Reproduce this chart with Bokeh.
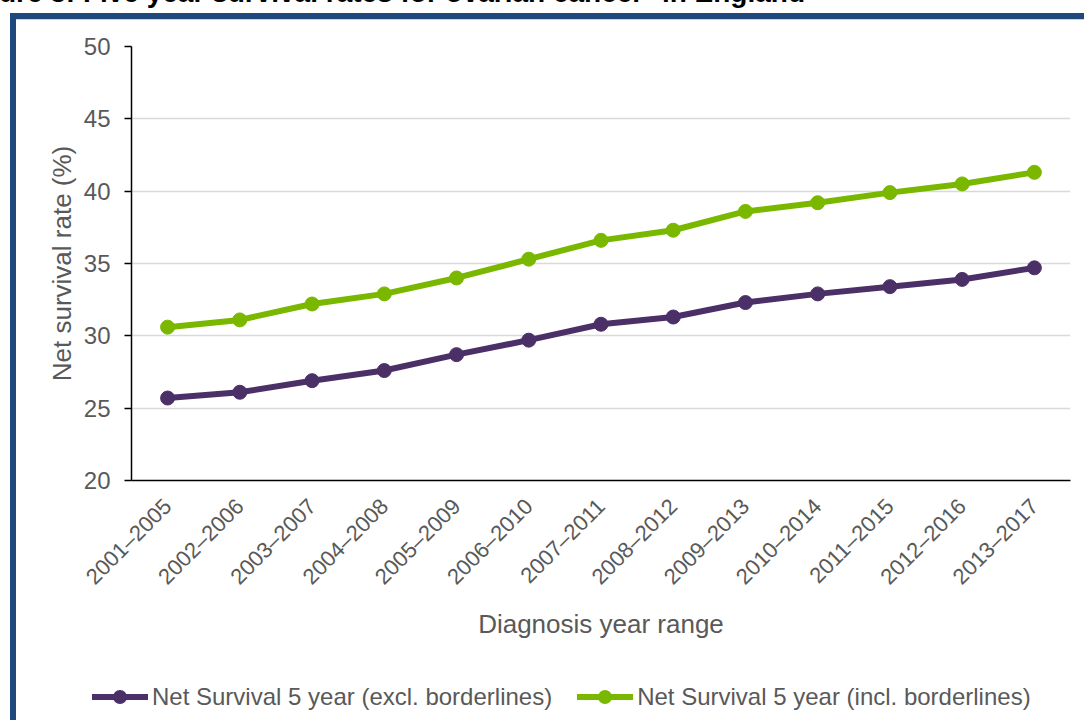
from bokeh.plotting import figure
from bokeh.models import FactorRange, Range1d, FixedTicker, Div
from bokeh.layouts import column
from bokeh.embed import file_html
from bokeh.resources import INLINE
import math

# ---- data ----
periods = ["2001–2005", "2002–2006", "2003–2007", "2004–2008", "2005–2009",
           "2006–2010", "2007–2011", "2008–2012", "2009–2013", "2010–2014",
           "2011–2015", "2012–2016", "2013–2017"]
excl_borderlines = [25.7, 26.1, 26.9, 27.6, 28.7, 29.7, 30.8, 31.3, 32.3, 32.9, 33.4, 33.9, 34.7]
incl_borderlines = [30.6, 31.1, 32.2, 32.9, 34.0, 35.3, 36.6, 37.3, 38.6, 39.2, 39.9, 40.5, 41.3]
y_ticks = [20, 25, 30, 35, 40, 45, 50]
series_names = ["Net Survival 5 year (excl. borderlines)",
                "Net Survival 5 year (incl. borderlines)"]
title_text = "Figure 3: Five year survival rates for ovarian cancer* in England"
x_title = "Diagnosis year range"
y_title = "Net survival rate (%)"

PURPLE = "#4B3068"
GREEN = "#7AB800"
GREY = "#595959"
BLUE = "#1F497D"
FONT = "Liberation Sans"
series_colors = [PURPLE, GREEN]

title = Div(text=title_text, width=805, height=24, margin=(-16, 0, 0, 0),
            styles={"font-family": FONT, "font-size": "28px", "font-weight": "bold",
                    "color": "black", "text-align": "right", "white-space": "nowrap",
                    "line-height": "18px", "direction": "rtl"})

p = figure(x_range=FactorRange(*periods), y_range=Range1d(20, 50),
           frame_width=939, frame_height=434,
           min_border_left=131, min_border_right=14, min_border_top=38,
           min_border_bottom=240,
           output_backend="svg", toolbar_location=None)
p.margin = (0, 0, 0, 0)
p.outline_line_color = None
p.background_fill_color = "white"
p.border_fill_color = None
# chart frame: thick blue lines on the left and top edges
p.styles = {"background":
            f"linear-gradient({BLUE},{BLUE}) 10px 5px / 6px 2000px no-repeat, "
            f"linear-gradient({BLUE},{BLUE}) 10px 5px / 2000px 6px no-repeat, "
            "linear-gradient(#C9D3E3,#C9D3E3) 16px 11px / 2000px 1px no-repeat, white"}

# grid
p.xgrid.grid_line_color = None
p.ygrid.grid_line_color = "#D9D9D9"
p.ygrid.grid_line_width = 1.5

# y axis
p.yaxis.ticker = FixedTicker(ticks=y_ticks)
p.yaxis.axis_line_color = "black"
p.yaxis.axis_line_width = 1.5
p.yaxis.major_tick_line_color = "black"
p.yaxis.major_tick_line_width = 1.5
p.yaxis.major_tick_out = 7
p.yaxis.major_tick_in = 0
p.yaxis.minor_tick_line_color = None
p.yaxis.major_label_standoff = 14
p.yaxis.major_label_text_font = FONT
p.yaxis.major_label_text_font_size = "24px"
p.yaxis.major_label_text_color = GREY
p.yaxis.axis_label = y_title
p.yaxis.axis_label_text_font = FONT
p.yaxis.axis_label_text_font_size = "26px"
p.yaxis.axis_label_text_font_style = "normal"
p.yaxis.axis_label_text_color = GREY
p.yaxis.axis_label_standoff = 4

# x axis
p.xaxis.axis_line_color = "black"
p.xaxis.axis_line_width = 1.5
p.xaxis.major_tick_line_color = None
p.xaxis.major_tick_out = 0
p.xaxis.major_tick_in = 0
p.xaxis.major_label_orientation = math.pi / 4
p.xaxis.major_label_standoff = 22
p.xaxis.major_label_text_font = FONT
p.xaxis.major_label_text_font_size = "22px"
p.xaxis.major_label_text_color = GREY
p.xaxis.axis_label = x_title
p.xaxis.axis_label_text_font = FONT
p.xaxis.axis_label_text_font_size = "26px"
p.xaxis.axis_label_text_font_style = "normal"
p.xaxis.axis_label_text_color = GREY
p.xaxis.axis_label_standoff = 8

p.line(periods, excl_borderlines, line_color=PURPLE, line_width=6)
p.scatter(periods, excl_borderlines, size=14, fill_color=PURPLE, line_color=PURPLE)
p.line(periods, incl_borderlines, line_color=GREEN, line_width=6)
p.scatter(periods, incl_borderlines, size=14, fill_color=GREEN, line_color=GREEN)

# legend below the chart (line-with-marker key + label for each series)
items_html = []
for i, (name, col) in enumerate(zip(series_names, series_colors)):
    gap = '<span style="display:inline-block;width:25px"></span>' if i > 0 else ""
    items_html.append(
        gap +
        f'<span style="position:relative;display:inline-block;width:56px;height:6px;'
        f'background:{col};margin-right:4px">'
        f'<span style="position:absolute;left:21px;top:-4px;width:14px;height:14px;'
        f'border-radius:50%;background:{col}"></span></span>'
        f'<span>{name}</span>')
legend_html = ('<div style="display:flex;align-items:center;height:28px;white-space:nowrap">'
               + "".join(items_html) + '</div>')
legend = Div(text=legend_html, width=990, height=28, margin=(-42, 0, 0, 92),
             styles={"font-family": FONT, "font-size": "24px", "color": GREY,
                     "line-height": "28px"})

layout = column(title, p, legend, spacing=0)
open("out.html", "w").write(file_html(layout, INLINE))
